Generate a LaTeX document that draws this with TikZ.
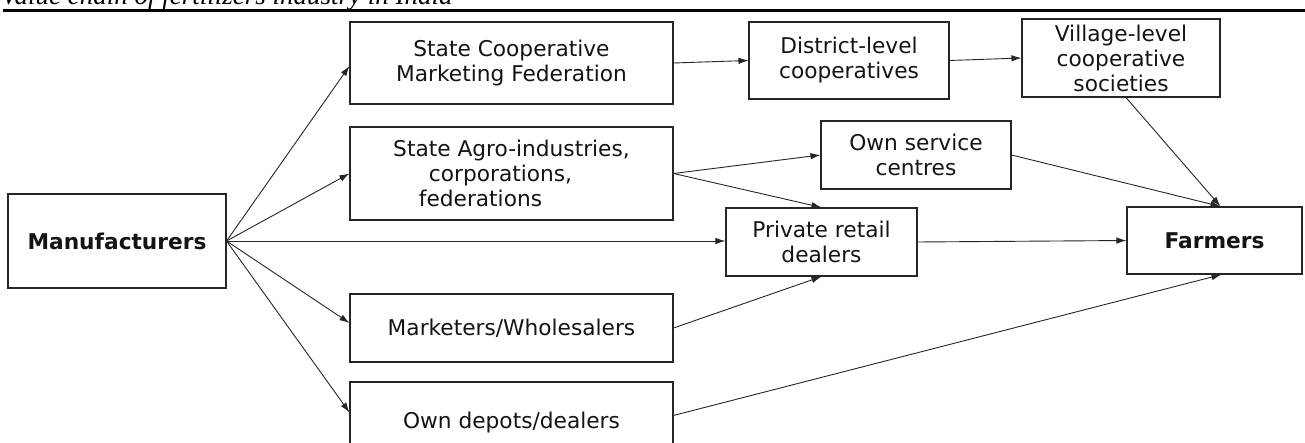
\documentclass[tikz,border=0pt]{standalone}
\usepackage{fontspec}
\newfontfamily\boxfont{DejaVu Sans}
\newfontfamily\capfont{Liberation Serif}
\usetikzlibrary{arrows.meta,calc}
\tikzset{
  box/.style={draw=black!85, line width=1.1pt, rectangle, inner sep=0pt, align=center,
    text=black!92, font=\boxfont\fontsize{21.7}{25}\selectfont},
  boldbox/.style={box, font=\boxfont\bfseries\fontsize{21.7}{25}\selectfont},
  conn/.style={draw=black!85, line width=0.9pt, -{Latex[length=10pt,width=6.5pt]}},
}
\begin{document}
\begin{tikzpicture}[x=1pt,y=-1pt]
\useasboundingbox (0,0) rectangle (1305,443);
\clip (0,0) rectangle (1305,443);
\fill[white] (0,0) rectangle (1305,443);
% cropped caption and rule
\node[anchor=base west, inner sep=0pt, font=\capfont\itshape\fontsize{27}{30}\selectfont] (cap) at (1,5) {Value chain of fertilizers industry in India};
\coordinate (ruleL) at (3,11);
\coordinate (ruleR) at (1305,11);
\draw[line width=3pt] (ruleL) -- (ruleR);
% boxes
\node[boldbox, minimum width=218pt, minimum height=94pt] (man) at (117,241) {Manufacturers};
\node[box, minimum width=323pt, minimum height=82pt] (scmf) at (511.5,63) {State Cooperative\\Marketing Federation};
\node[box, minimum width=323pt, minimum height=93pt] (agro) at (511.5,173.5) {State Agro-industries,\\corporations,\kern22pt\\federations\kern62pt};
\node[box, minimum width=323pt, minimum height=68pt] (mkt) at (511.5,328) {Marketers/Wholesalers};
\node[box, minimum width=323pt, minimum height=82pt] (dep) at (511.5,423) {Own depots/dealers};
\node[box, minimum width=200pt, minimum height=77pt] (dist) at (849,60.5) {District-level\\cooperatives};
\node[box, minimum width=198pt, minimum height=78pt] (vill) at (1121,58) {Village-level\\cooperative\\societies};
\node[box, minimum width=190pt, minimum height=68pt] (osc) at (916,155) {Own service\\centres};
\node[box, minimum width=191pt, minimum height=68pt] (prd) at (821.5,242) {Private retail\\dealers};
\node[boldbox, minimum width=175pt, minimum height=67pt] (farm) at (1214.5,240.5) {Farmers};
% connectors
\draw[conn] (man.east) -- ($(scmf.west)+(0,3)$);
\draw[conn] (man.east) -- (agro.west);
\draw[conn] (man.east) -- (man.east -| prd.west);
\draw[conn] (man.east) -- ($(mkt.west)+(0,-5)$);
\draw[conn] (man.east) -- ($(dep.north west)+(0,31)$);
\draw[conn] (scmf.east) -- (dist.west);
\draw[conn] (dist.east) -- (vill.west);
\draw[conn] (agro.east) -- (osc.west);
\draw[conn] (agro.east) -- (prd.north);
\draw[conn] (osc.east) -- ($(farm.north)+(6,0)$);
\draw[conn] ($(vill.south)+(5,0)$) -- ($(farm.north)+(6,0)$);
\draw[conn] (prd.east) -- (farm.west);
\draw[conn] (mkt.east) -- (prd.south);
\draw[conn] ($(dep.north east)+(0,34)$) -- ($(farm.south)+(7,0)$);
\end{tikzpicture}
\end{document}
